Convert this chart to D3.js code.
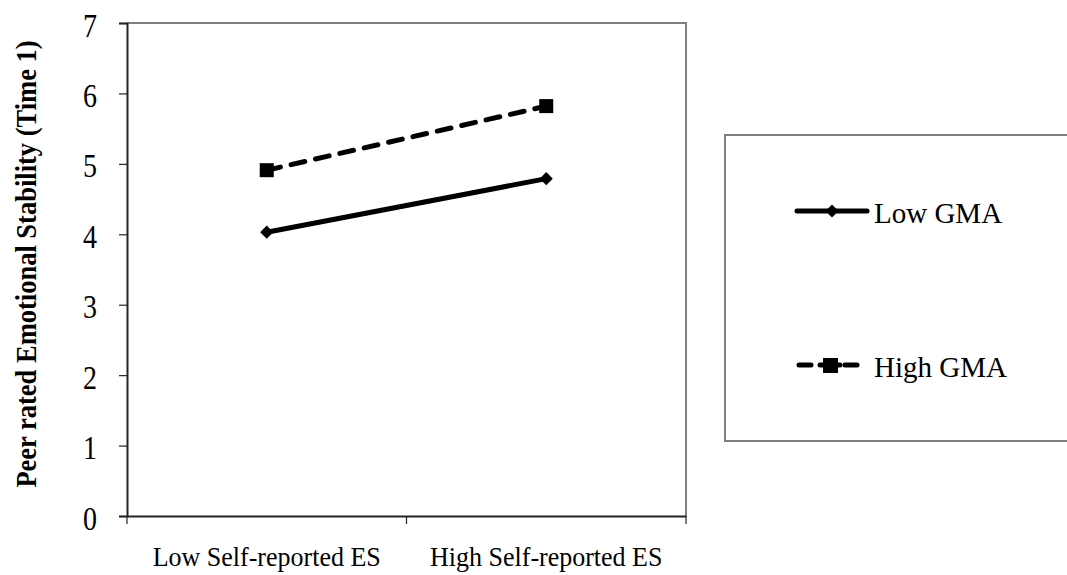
<!DOCTYPE html>
<html><head><meta charset="utf-8">
<script src="https://cdn.jsdelivr.net/npm/d3@7"></script>
<style>body{margin:0;background:#fff}svg{display:block}text{font-family:"Liberation Serif","Times New Roman",serif}</style>
</head><body>
<svg id="c" width="1067" height="575"></svg>
<script>
const categories = ["Low Self-reported ES", "High Self-reported ES"];
const lowGMA = [4.03, 4.79];
const highGMA = [4.91, 5.82];
const yTicks = [0, 1, 2, 3, 4, 5, 6, 7];
const seriesNames = ["Low GMA", "High GMA"];

const svg = d3.select("#c");
const L = 127, R = 686, T = 23, B = 516;
const x = d3.scaleBand().domain(categories).range([L, R]);
const y = d3.scaleLinear().domain([0, 7]).range([B, T]);

// plot frame (top/right grey)
svg.append("path").attr("d", `M${L},${T}H${R}V${B}`).attr("fill", "none").attr("stroke", "#808080").attr("stroke-width", 2);

// y axis
const ya = svg.append("g").attr("transform", `translate(${L},0)`)
  .call(d3.axisLeft(y).tickValues(yTicks).tickSize(8).tickPadding(0).tickFormat(d3.format("d")));
ya.select(".domain").attr("stroke", "#222").attr("stroke-width", 2);
ya.selectAll(".tick line").attr("stroke", "#222").attr("stroke-width", 1.2);
ya.selectAll(".tick text").remove();
ya.selectAll(".tick").append("text")
  .attr("x", -37).attr("y", 0)
  .attr("text-anchor", "middle").attr("fill", "#000")
  .attr("font-size", 28)
  .attr("transform", "translate(0,13) scale(1,1.17)")
  .text(d => d);

// x axis
const xa = svg.append("g").attr("transform", `translate(0,${B})`)
  .call(d3.axisBottom(x).tickSize(0).tickFormat(""));
xa.select(".domain").attr("stroke", "#222").attr("stroke-width", 2);
xa.selectAll(".tick").remove();
const bounds = [L, x(categories[1]), R];
xa.selectAll("line.b").data(bounds).enter().append("line")
  .attr("x1", d => d).attr("x2", d => d).attr("y1", 0).attr("y2", 8)
  .attr("stroke", "#222").attr("stroke-width", 1.2);
xa.selectAll("text.cl").data(categories).enter().append("text")
  .attr("text-anchor", "middle").attr("fill", "#000").attr("font-size", 26)
  .attr("transform", d => `translate(${x(d) + x.bandwidth() / 2},50) scale(1,1.05)`)
  .text(d => d);

// y title
svg.append("text")
  .attr("transform", `translate(36,264) rotate(-90) scale(1,1.08)`)
  .attr("text-anchor", "middle").attr("font-weight", "bold").attr("font-size", 26.5)
  .text("Peer rated Emotional Stability (Time 1)");

const cx = d => x(d) + x.bandwidth() / 2;
const line = d3.line().x((d, i) => cx(categories[i])).y(d => y(d));

svg.append("path").datum(lowGMA).attr("d", line).attr("fill", "none")
  .attr("stroke", "#000").attr("stroke-width", 5);
svg.append("path").datum(highGMA).attr("d", line).attr("fill", "none")
  .attr("stroke", "#000").attr("stroke-width", 5).attr("stroke-dasharray", "14,11").attr("stroke-linecap", "round");

const diamond = d3.symbol().type(d3.symbolDiamond2).size(110);
svg.selectAll("path.dm").data(lowGMA).enter().append("path")
  .attr("d", diamond).attr("fill", "#000")
  .attr("transform", (d, i) => `translate(${cx(categories[i])},${y(d)})`);
svg.selectAll("rect.sq").data(highGMA).enter().append("rect")
  .attr("x", (d, i) => cx(categories[i]) - 7).attr("y", d => y(d) - 7)
  .attr("width", 14).attr("height", 14).attr("fill", "#000");

// legend
const lg = svg.append("g");
lg.append("rect").attr("x", 725).attr("y", 135).attr("width", 360).attr("height", 306)
  .attr("fill", "#fff").attr("stroke", "#808080").attr("stroke-width", 2);
// Low GMA
lg.append("line").attr("x1", 797).attr("x2", 867).attr("y1", 211).attr("y2", 211)
  .attr("stroke", "#000").attr("stroke-width", 5).attr("stroke-linecap", "round");
lg.append("path").attr("d", diamond).attr("fill", "#000").attr("transform", "translate(832,211)");
lg.append("text").attr("x", 874).attr("y", 223).attr("font-size", 29).text(seriesNames[0]);
// High GMA
[[799, 811], [845, 857]].forEach(s => lg.append("line").attr("x1", s[0]).attr("x2", s[1]).attr("y1", 365).attr("y2", 365)
  .attr("stroke", "#000").attr("stroke-width", 5).attr("stroke-linecap", "round"));
lg.append("line").attr("x1", 820).attr("x2", 840).attr("y1", 365).attr("y2", 365)
  .attr("stroke", "#000").attr("stroke-width", 5).attr("stroke-linecap", "round");
lg.append("rect").attr("x", 823).attr("y", 358).attr("width", 15).attr("height", 15).attr("fill", "#000");
lg.append("text").attr("x", 874).attr("y", 377).attr("font-size", 29).text(seriesNames[1]);
</script>
</body></html>
